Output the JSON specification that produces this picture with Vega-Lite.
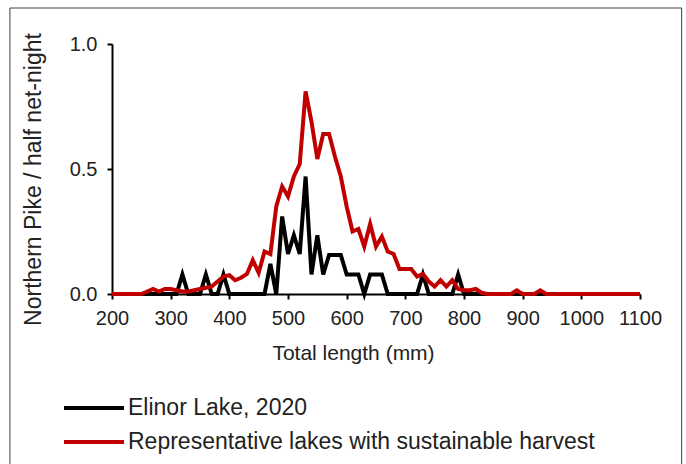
{
  "$schema": "https://vega.github.io/schema/vega-lite/v6.json",
  "width": 528,
  "height": 250,
  "autosize": {"type": "none"},
  "padding": {"left": 112, "top": 44, "right": 46, "bottom": 170},
  "background": "white",
  "config": {"view": {"stroke": null}, "font": "Liberation Sans"},
  "data": {"values": [
    {"L": 200, "E": 0, "R": 0}, {"L": 210, "E": 0, "R": 0}, {"L": 220, "E": 0, "R": 0}, {"L": 230, "E": 0, "R": 0},
    {"L": 240, "E": 0, "R": 0}, {"L": 250, "E": 0, "R": 0}, {"L": 260, "E": 0, "R": 0.01}, {"L": 270, "E": 0, "R": 0.02},
    {"L": 280, "E": 0, "R": 0.01}, {"L": 290, "E": 0, "R": 0.02}, {"L": 300, "E": 0, "R": 0.02}, {"L": 310, "E": 0, "R": 0.015},
    {"L": 320, "E": 0.078, "R": 0.01}, {"L": 330, "E": 0, "R": 0.01}, {"L": 340, "E": 0, "R": 0.015}, {"L": 350, "E": 0, "R": 0.02},
    {"L": 360, "E": 0.078, "R": 0.025}, {"L": 370, "E": 0, "R": 0.03}, {"L": 380, "E": 0, "R": 0.05}, {"L": 390, "E": 0.078, "R": 0.07},
    {"L": 400, "E": 0, "R": 0.075}, {"L": 410, "E": 0, "R": 0.055}, {"L": 420, "E": 0, "R": 0.065}, {"L": 430, "E": 0, "R": 0.08},
    {"L": 440, "E": 0, "R": 0.135}, {"L": 450, "E": 0, "R": 0.085}, {"L": 460, "E": 0, "R": 0.17}, {"L": 470, "E": 0.12, "R": 0.16},
    {"L": 480, "E": 0, "R": 0.35}, {"L": 490, "E": 0.31, "R": 0.43}, {"L": 500, "E": 0.16, "R": 0.39}, {"L": 510, "E": 0.235, "R": 0.47},
    {"L": 520, "E": 0.16, "R": 0.52}, {"L": 530, "E": 0.47, "R": 0.81}, {"L": 540, "E": 0.078, "R": 0.69}, {"L": 550, "E": 0.235, "R": 0.54},
    {"L": 560, "E": 0.078, "R": 0.64}, {"L": 570, "E": 0.156, "R": 0.64}, {"L": 580, "E": 0.156, "R": 0.55}, {"L": 590, "E": 0.156, "R": 0.47},
    {"L": 600, "E": 0.078, "R": 0.35}, {"L": 610, "E": 0.078, "R": 0.25}, {"L": 620, "E": 0.078, "R": 0.26}, {"L": 630, "E": 0, "R": 0.19},
    {"L": 640, "E": 0.078, "R": 0.28}, {"L": 650, "E": 0.078, "R": 0.19}, {"L": 660, "E": 0.078, "R": 0.23}, {"L": 670, "E": 0, "R": 0.17},
    {"L": 680, "E": 0, "R": 0.16}, {"L": 690, "E": 0, "R": 0.1}, {"L": 700, "E": 0, "R": 0.1}, {"L": 710, "E": 0, "R": 0.1},
    {"L": 720, "E": 0, "R": 0.07}, {"L": 730, "E": 0.078, "R": 0.08}, {"L": 740, "E": 0, "R": 0.05}, {"L": 750, "E": 0, "R": 0.03},
    {"L": 760, "E": 0, "R": 0.055}, {"L": 770, "E": 0, "R": 0.03}, {"L": 780, "E": 0, "R": 0.055}, {"L": 790, "E": 0.078, "R": 0.02},
    {"L": 800, "E": 0, "R": 0.015}, {"L": 810, "E": 0, "R": 0.015}, {"L": 820, "E": 0, "R": 0.02}, {"L": 830, "E": 0, "R": 0.005},
    {"L": 840, "E": 0, "R": 0}, {"L": 850, "E": 0, "R": 0}, {"L": 860, "E": 0, "R": 0}, {"L": 870, "E": 0, "R": 0},
    {"L": 880, "E": 0, "R": 0}, {"L": 890, "E": 0, "R": 0.015}, {"L": 900, "E": 0, "R": 0}, {"L": 910, "E": 0, "R": 0},
    {"L": 920, "E": 0, "R": 0}, {"L": 930, "E": 0, "R": 0.015}, {"L": 940, "E": 0, "R": 0}, {"L": 950, "E": 0, "R": 0},
    {"L": 960, "E": 0, "R": 0}, {"L": 970, "E": 0, "R": 0}, {"L": 980, "E": 0, "R": 0}, {"L": 990, "E": 0, "R": 0},
    {"L": 1000, "E": 0, "R": 0}, {"L": 1010, "E": 0, "R": 0}, {"L": 1020, "E": 0, "R": 0}, {"L": 1030, "E": 0, "R": 0},
    {"L": 1040, "E": 0, "R": 0}, {"L": 1050, "E": 0, "R": 0}, {"L": 1060, "E": 0, "R": 0}, {"L": 1070, "E": 0, "R": 0},
    {"L": 1080, "E": 0, "R": 0}, {"L": 1090, "E": 0, "R": 0}, {"L": 1100, "E": 0, "R": 0}
  ]},
  "layer": [
    {
      "data": {"values": [{}]},
      "mark": {"type": "rect", "fill": null, "stroke": "#404040", "strokeWidth": 1, "clip": false},
      "encoding": {
        "x": {"datum": 26, "type": "quantitative", "scale": {"domain": [200, 1100], "nice": false, "zero": false}},
        "x2": {"datum": 1171},
        "y": {"datum": 1.144, "type": "quantitative", "scale": {"domain": [0, 1], "nice": false}},
        "y2": {"datum": -0.75}
      }
    },
    {
      "mark": {"type": "line", "strokeWidth": 4, "clip": false},
      "encoding": {
        "x": {
          "field": "L", "type": "quantitative",
          "scale": {"domain": [200, 1100], "nice": false, "zero": false},
          "axis": {
            "title": "Total length (mm)",
            "values": [200, 250, 300, 350, 400, 450, 500, 550, 600, 650, 700, 750, 800, 850, 900, 950, 1000, 1050, 1100],
            "labelExpr": "datum.value % 100 === 0 ? datum.label : ''",
            "format": "d", "grid": false, "labelOverlap": false, "labelFlush": false,
            "labelFontSize": 20, "labelColor": "#222222", "labelPadding": 9,
            "tickColor": "#000000", "tickSize": 5, "tickWidth": 2,
            "domainColor": "#000000", "domainWidth": 2,
            "titleFontSize": 21, "titleFontWeight": "normal", "titleColor": "#222222",
            "titleX": 241, "titleY": 59, "titleBaseline": "middle", "titleAlign": "center"
          }
        },
        "y": {
          "field": "E", "type": "quantitative",
          "scale": {"domain": [0, 1], "nice": false},
          "axis": {
            "title": "Northern Pike / half net-night",
            "values": [0, 0.5, 1], "format": ".1f", "grid": false,
            "labelFontSize": 20, "labelColor": "#222222", "labelPadding": 10,
            "tickColor": "#000000", "tickSize": 5, "tickWidth": 2,
            "domainColor": "#000000", "domainWidth": 2,
            "titleFontSize": 23, "titleFontWeight": "normal", "titleColor": "#222222",
            "titleX": -79, "titleY": 135, "titleBaseline": "middle", "titleAlign": "center", "titleAngle": -90
          }
        },
        "color": {
          "datum": "Elinor Lake, 2020",
          "scale": {"domain": ["Elinor Lake, 2020", "Representative lakes with sustainable harvest"], "range": ["#000000", "#C00000"]},
          "legend": {
            "title": null, "orient": "none", "legendX": -40, "legendY": 342,
            "symbolType": "M-1.5,0H1.5", "symbolSize": 1600, "symbolStrokeWidth": 4,
            "labelFontSize": 23, "labelColor": "#222222", "labelOffset": 12, "labelLimit": 0,
            "rowPadding": 0, "padding": 0
          }
        }
      }
    },
    {
      "mark": {"type": "line", "strokeWidth": 4, "clip": false},
      "encoding": {
        "x": {"field": "L", "type": "quantitative"},
        "y": {"field": "R", "type": "quantitative", "title": "Northern Pike / half net-night"},
        "color": {"datum": "Representative lakes with sustainable harvest"}
      }
    }
  ]
}
